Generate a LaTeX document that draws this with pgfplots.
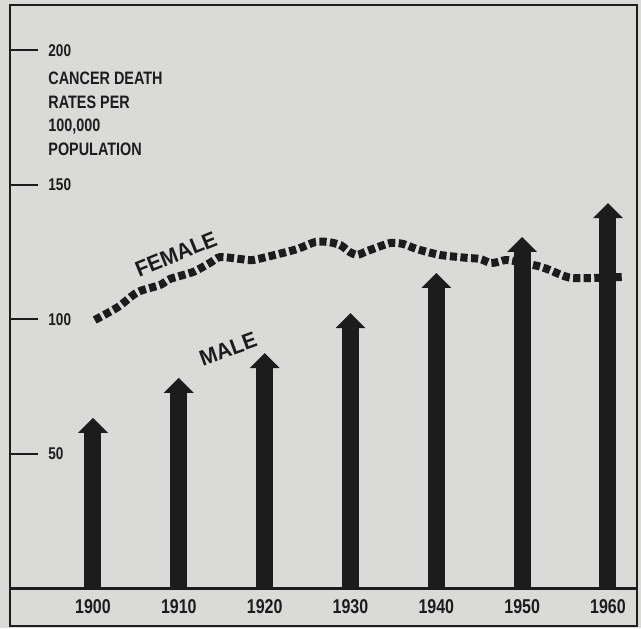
\documentclass[border=0pt]{standalone}
\usepackage{pgfplots}
\pgfplotsset{compat=1.18}
\usetikzlibrary{arrows.meta}
\usepackage{fontspec}
\setmainfont{Liberation Sans}[FakeStretch=0.8]
\newfontfamily\lblfont{Liberation Sans}[FakeStretch=0.95]
\definecolor{paper}{RGB}{218,218,216}
\definecolor{ink}{RGB}{28,28,28}

\begin{document}
\begin{tikzpicture}
\fill[paper] (-5pt,-19.75pt) rectangle (315.5pt,294.25pt);
\begin{axis}[
    at={(0,0)}, anchor=south west,
    scale only axis,
    width=313.5pt, height=291.75pt,
    xmin=1890.33, xmax=1963.38,
    ymin=0, ymax=216.9,
    clip=false,
    axis line style={ink, line width=1.1pt},
    xtick={1900,1910,...,1960},
    xtick style={draw=none},
    xticklabel style={anchor=center, yshift=-9.25pt, inner sep=0pt,
        font=\fontsize{10}{12}\selectfont\bfseries, text=ink},
    ytick={50,100,150,200},
    ytick pos=left,
    tick align=inside,
    major tick length=14pt,
    ytick style={ink, line width=1pt},
    yticklabel style={anchor=west, xshift=19pt, inner sep=0pt,
        font=\fontsize{8.5}{10}\selectfont\bfseries, text=ink},
    /pgf/number format/assume math mode=true,
    /pgf/number format/1000 sep={},
]
% female death rate
\addplot[ink, line width=4pt, dash pattern=on 3.6pt off 1.7pt, smooth, tension=0.4, no marks]
coordinates {
(1900.2,99.8)(1902.9,104.6)(1905.2,110.2)(1907.8,112.8)(1909.0,115.1)
(1911.7,117.7)(1913.6,121.0)(1914.8,123.2)(1917.1,122.5)(1918.6,122.1)
(1921.2,124.0)(1923.8,126.2)(1925.9,128.8)(1927.4,128.8)(1928.8,127.7)
(1929.9,125.1)(1930.8,124.0)(1932.0,125.5)(1934.6,128.4)(1936.1,128.1)
(1937.7,126.2)(1940.4,124.0)(1943.6,122.9)(1945.1,122.5)(1946.3,121.0)
(1947.2,121.4)(1948.4,122.1)(1951.8,119.9)(1953.2,118.4)(1954.6,116.5)
(1955.8,115.4)(1958.1,115.4)(1961.6,115.8)
};
% male death rate as arrows
\addplot[ink, line width=8.5pt, quiver={u=0, v=\thisrow{v}},
    -{Triangle[width=14.5pt,length=7.5pt]}, no marks]
table[x=x, y=y0] {
x     y0  v
1900  0   63.4
1910  0   78.3
1920  0   87.5
1930  0   102.4
1940  0   117.3
1950  0   130.7
1960  0   143.3
};
% strip under the axis holding the year labels
\draw[ink, line width=1.1pt] (rel axis cs:0,0) -- (rel axis cs:0,-0.0643)
    -- (rel axis cs:1,-0.0643) -- (rel axis cs:1,0);
\node[anchor=north west, inner sep=0pt, align=left, text=ink,
    font=\fontsize{9}{11.7}\selectfont\bfseries]
    at (axis cs:1894.76,192.0) {CANCER DEATH\\RATES PER\\100,000\\POPULATION};
\node[rotate=22, inner sep=0pt, text=ink, font=\lblfont\fontsize{11}{13}\selectfont\bfseries]
    at (axis cs:1909.67,124.35) {FEMALE};
\node[rotate=20, inner sep=0pt, text=ink, font=\lblfont\fontsize{11}{13}\selectfont\bfseries]
    at (axis cs:1915.73,89.03) {MALE};
\end{axis}
\pgfresetboundingbox
\path (-5pt,-19.75pt) rectangle (315.5pt,294.25pt);
\end{tikzpicture}
\end{document}
